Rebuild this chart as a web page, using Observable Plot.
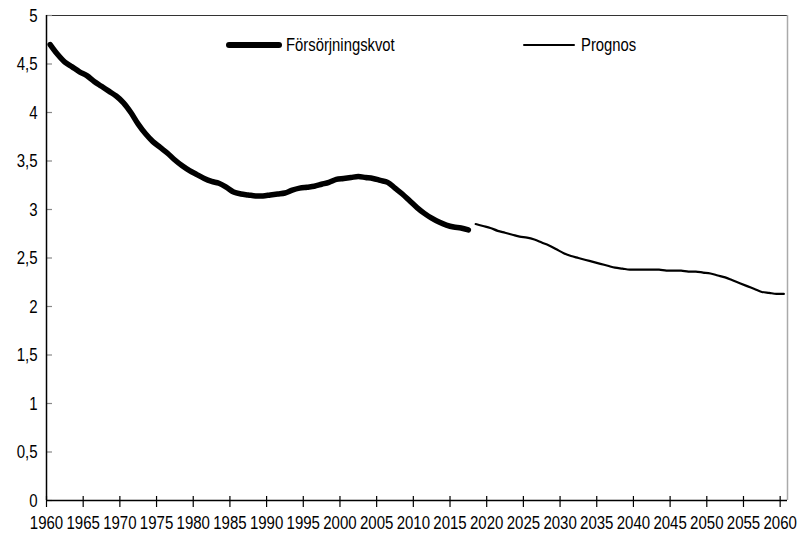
<!DOCTYPE html>
<html>
<head>
<meta charset="utf-8">
<script src="https://cdn.jsdelivr.net/npm/d3@7"></script>
<script src="https://cdn.jsdelivr.net/npm/@observablehq/plot@0.6"></script>
<style>
  html, body { margin: 0; padding: 0; background: #fff; }
  #wrap { position: relative; width: 804px; height: 533px; font-family: "Liberation Sans", Arial, sans-serif; }
  #wrap svg text { font-size: 19px; }
  .leg { position: absolute; display: flex; align-items: center; font-size: 19px; color: #000; white-space: nowrap; }
  .leg .sw { display: inline-block; background: #000; border-radius: 3px; margin-right: 4px; }
  .leg .lb { display: inline-block; transform: scaleX(0.78); transform-origin: left center; }
</style>
</head>
<body>
<div id="wrap">
  <div class="leg" style="left:226px; top:34px;"><span class="sw" style="width:56px;height:5.5px;"></span><span class="lb">Försörjningskvot</span></div>
  <div class="leg" style="left:523px; top:34px;"><span class="sw" style="width:52px;height:2px;border-radius:1px;margin-right:6px;"></span><span class="lb">Prognos</span></div>
</div>
<script>
const histYears = d3.range(1960, 2018);
const histValues = [
  4.70, 4.60, 4.52, 4.47, 4.42, 4.38, 4.32, 4.27, 4.22, 4.17,
  4.10, 4.00, 3.88, 3.78, 3.70, 3.64, 3.58, 3.51, 3.45, 3.40,
  3.36, 3.32, 3.29, 3.27, 3.23, 3.18, 3.16, 3.15, 3.14, 3.14,
  3.15, 3.16, 3.17, 3.20, 3.22, 3.23, 3.24, 3.26, 3.28, 3.31,
  3.32, 3.33, 3.34, 3.33, 3.32, 3.30, 3.28, 3.22, 3.16, 3.09,
  3.02, 2.96, 2.91, 2.87, 2.84, 2.82, 2.81, 2.79
];
const progYears = d3.range(2018, 2061);
const progValues = [
  2.85, 2.83, 2.81, 2.78, 2.76, 2.74, 2.72, 2.71, 2.69, 2.66,
  2.63, 2.59, 2.55, 2.52, 2.50, 2.48, 2.46, 2.44, 2.42, 2.40,
  2.39, 2.38, 2.38, 2.38, 2.38, 2.38, 2.37, 2.37, 2.37, 2.36,
  2.36, 2.35, 2.34, 2.32, 2.30, 2.27, 2.24, 2.21, 2.18, 2.15,
  2.14, 2.13, 2.13
];
const xTicks = d3.range(1960, 2061, 5);
const yTicks = [0, 0.5, 1, 1.5, 2, 2.5, 3, 3.5, 4, 4.5, 5];
const seriesNames = ["Försörjningskvot", "Prognos"];

const hist = histYears.map((y, i) => ({year: y, value: histValues[i]}));
const prog = progYears.map((y, i) => ({year: y, value: progValues[i]}));
const fmtComma = d => String(d).replace(".", ",");

const chart = Plot.plot({
  width: 804,
  height: 533,
  marginLeft: 46,
  marginRight: 17,
  marginTop: 15,
  marginBottom: 33,
  style: {fontFamily: '"Liberation Sans", Arial, sans-serif', fontSize: "19px", background: "#fff", color: "#000", overflow: "visible"},
  x: {domain: [1960, 2061], axis: null, label: null},
  y: {domain: [0, 5], axis: null, label: null},
  marks: [
    Plot.ruleY([5], {stroke: "#333", strokeWidth: 1}),
    Plot.ruleX([2061], {stroke: "#aaa", strokeWidth: 1.5}),
    Plot.axisY(yTicks, {tickSize: 6, dx: 6, stroke: "#888", tickFormat: () => "", strokeWidth: 1.2, label: null}),
    Plot.axisY(yTicks, {tickSize: 0, tickPadding: 9, tickFormat: fmtComma, fill: "#000", fontSize: 19, label: null}),
    Plot.axisX(xTicks, {tickSize: 11, dy: -4, tickPadding: 8, tickFormat: d => String(d), stroke: "#000", fill: "#000", strokeWidth: 1.2, fontSize: 19, label: null}),
    Plot.ruleX([1960], {stroke: "#000", strokeWidth: 1.5}),
    Plot.ruleY([0], {stroke: "#000", strokeWidth: 1.5}),
    Plot.line(hist, {x: d => d.year + 0.5, y: "value", stroke: "#000", strokeWidth: 5.5, strokeLinecap: "round", curve: "catmull-rom"}),
    Plot.line(prog, {x: d => d.year + 0.5, y: "value", stroke: "#000", strokeWidth: 2.2, curve: "catmull-rom"})
  ]
});
document.getElementById("wrap").prepend(chart);
// narrow the glyphs around each label's own anchor to mimic a condensed typeface
chart.querySelectorAll("text").forEach(t => {
  if (!t.textContent) return;
  const tr = t.getAttribute("transform");
  if (tr) {
    t.setAttribute("transform", tr + " scale(0.79,1)");
  } else {
    const x = +(t.getAttribute("x") || 0);
    t.setAttribute("transform", `translate(${x},0) scale(0.79,1) translate(${-x},0)`);
  }
});
</script>
</body>
</html>
